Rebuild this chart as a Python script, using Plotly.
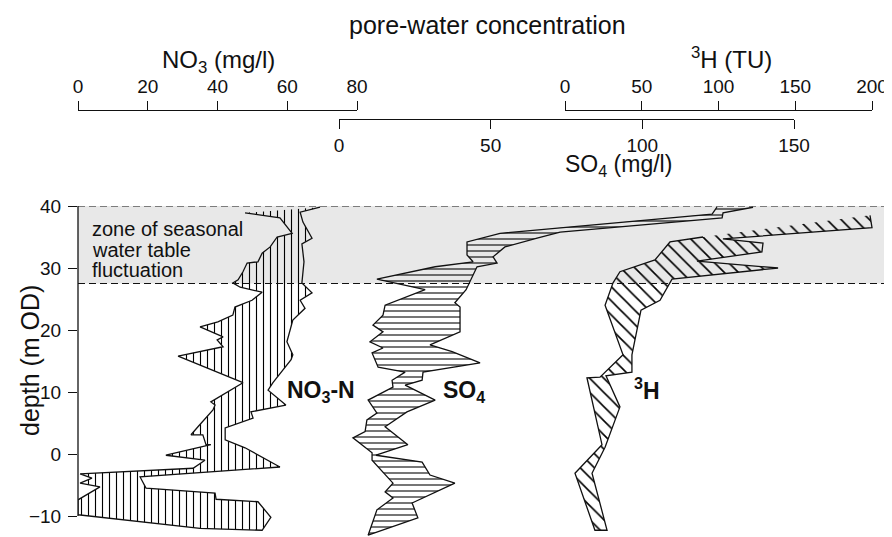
import plotly.graph_objects as go

# ---------------- data ----------------
# NO3 (mg/l): envelope of the pore-water profile, right (max) and left (min) edges
no3_max_depth = [39.8, 39.0, 37.4, 34.8, 33.9, 31.0, 27.6, 26.0, 24.8, 23.5, 21.6, 18.1, 16.0, 15.2,
                 11.5, 10.3, 7.9, 6.8, 5.8, 4.2, 2.3, 1.0, -2.1, -3.7, -5.5, -6.3, -7.3, -7.7, -10.2, -12.3]
no3_max = [69.4, 63.7, 64.5, 67.1, 64.2, 64.8, 64.2, 67.1, 63.7, 65.1, 61.6, 59.9, 61.6, 61.1,
           55.9, 54.5, 59.6, 49.6, 50.2, 42.2, 42.2, 47.9, 57.9, 17.8, 19.5, 39.3, 39.6, 51.6, 55.3, 52.8]
no3_min_depth = [38.9, 38.1, 35.6, 35.0, 33.4, 32.4, 31.0, 30.8, 29.4, 28.1, 27.6, 26.9, 26.1, 24.8,
                 23.7, 22.4, 21.3, 20.5, 18.9, 18.4, 17.3, 15.8, 11.5, 8.4, 7.9, 7.1, 4.4, 3.1, 3.1,
                 1.5, 1.5, -0.2, -1.0, -2.3, -3.2, -3.9, -4.7, -5.3, -7.4, -9.8, -12.0]
no3_min = [47.9, 57.9, 61.4, 57.1, 55.1, 52.8, 51.6, 48.5, 47.3, 45.9, 44.4, 46.5, 52.8, 49.9,
           45.0, 44.4, 40.1, 35.0, 41.6, 39.9, 41.6, 28.7, 47.3, 38.1, 39.3, 38.7, 34.4, 32.4, 35.8,
           36.7, 38.1, 25.2, 36.4, 33.0, 0.6, 4.0, 0.6, 6.3, 0.0, 0.0, 35.0]

# SO4 (mg/l)
so4_max_depth = [39.8, 38.9, 38.1, 35.8, 34.8, 33.4, 31.8, 30.8, 30.2, 27.7, 26.5, 24.4, 23.7, 19.7,
                 17.6, 16.5, 14.7, 13.2, 11.9, 11.1, 8.7, 6.8, 4.4, 1.5, -0.2, -1.3, -3.4, -4.7,
                 -7.9, -10.3, -13.1]
so4_max = [136.5, 126.6, 126.3, 72.9, 65.3, 54.7, 50.8, 52.1, 45.5, 43.2, 41.9, 38.2, 39.9, 39.9,
           30.0, 37.3, 46.5, 27.7, 27.4, 21.8, 31.7, 22.4, 15.2, 22.7, 12.2, 27.4, 30.0, 38.2,
           24.1, 26.0, 9.6]
so4_min_depth = [39.8, 38.7, 36.5, 35.6, 34.2, 32.1, 31.0, 30.2, 28.2, 26.5, 24.0, 22.4, 20.8, 19.7,
                 18.1, 17.1, 16.3, 14.0, 13.2, 11.9, 10.8, 8.7, 6.6, 5.5, 3.6, 2.6, 0.2, -1.0,
                 -4.7, -6.1, -7.1, -9.0, -13.1]
so4_min = [124.6, 123.0, 72.9, 53.1, 42.2, 42.2, 44.2, 31.7, 12.5, 28.4, 15.2, 14.5, 11.2, 14.5,
           10.2, 14.5, 10.9, 12.9, 21.8, 17.5, 17.8, 9.6, 12.5, 9.2, 8.6, 4.6, 10.9, 10.9,
           17.8, 15.2, 17.8, 12.5, 9.6]

# 3H (TU)
h3_max_depth = [38.5, 36.5, 34.7, 34.0, 32.6, 31.1, 30.0, 28.2, 24.8, 23.2, 16.0, 13.2, 12.6, 7.6,
                1.1, -3.1, -12.3]
h3_max = [198.7, 200.0, 102.9, 129.0, 128.3, 86.0, 138.8, 69.7, 61.9, 49.5, 43.6, 43.6, 26.7, 35.8,
          26.1, 17.6, 27.4]
h3_min_depth = [35.0, 34.2, 31.3, 29.4, 27.6, 24.0, 16.0, 12.4, 12.3, 1.5, -3.1, -12.3]
h3_min = [89.9, 68.4, 58.6, 35.8, 31.3, 26.1, 37.8, 22.8, 14.3, 24.1, 6.5, 19.5]

# water-table fluctuation zone (m OD)
zone_bottom = 27.5
zone_top = 40.0

# tick values
depth_ticks = [-10, 0, 10, 20, 30, 40]
no3_ticks = [0, 20, 40, 60, 80]
so4_ticks = [0, 50, 100, 150]
h3_ticks = [0, 50, 100, 150, 200]

# ---------------- layout geometry (pixels of the 892x537 window) ----------------
WIN_W, WIN_H = 892, 537
OFF = 8              # page (body) margin around the plot div
W, H = WIN_W - OFF, WIN_H - OFF
AX_L = 78            # depth axis position
Y40 = 206            # pixel row of 40 m
PX_PER_M = 6.2
NO3_PX = (78, 357)   # 0 and 80
SO4_PX = (339, 794)  # 0 and 150
H3_PX = (565, 872)   # 0 and 200
TOP_LINE = 111       # NO3 / 3H axis line row
SO4_LINE = 119       # SO4 axis line row

FONT = "Liberation Sans, Arial, Helvetica, sans-serif"


def data_range(vmax, px):
    scale = (px[1] - px[0]) / vmax
    return [(AX_L - px[0]) / scale, (WIN_W - px[0]) / scale]


def px_x(p):
    return (p - OFF) / W


def px_y(p):
    return 1 - (p - OFF) / H


def band(dmax, vmax, dmin, vmin):
    xs = list(vmax) + list(reversed(vmin))
    ys = list(dmax) + list(reversed(dmin))
    return xs, ys


fig = go.Figure()

bands = [
    (no3_max_depth, no3_max, no3_min_depth, no3_min, "x", "|", 7, 0.16),
    (so4_max_depth, so4_max, so4_min_depth, so4_min, "x2", "-", 6, 0.18),
    (h3_max_depth, h3_max, h3_min_depth, h3_min, "x3", "\\", 10, 0.16),
]
for dmx, vmx, dmn, vmn, xa, shp, sz, sol in bands:
    xs, ys = band(dmx, vmx, dmn, vmn)
    fig.add_trace(go.Scatter(
        x=xs, y=ys, xaxis=xa, yaxis="y", mode="lines", fill="toself",
        fillcolor="rgba(0,0,0,0)",
        fillpattern=dict(shape=shp, size=sz, solidity=sol, fgcolor="#000",
                         bgcolor="rgba(0,0,0,0)"),
        line=dict(color="#111", width=1.3), showlegend=False, hoverinfo="skip"))

y_bottom = 40 - (WIN_H - Y40) / PX_PER_M

tickfont = dict(family=FONT, size=19, color="#111")
common_top = dict(showgrid=False, zeroline=False, showline=True, linecolor="#111",
                  linewidth=1.2, ticks="outside", ticklen=9, tickcolor="#111",
                  tickwidth=1.2, tickfont=tickfont, fixedrange=True, automargin=False)

fig.update_layout(
    template="none",
    width=W, height=H, margin=dict(l=0, r=0, t=0, b=0, pad=0, autoexpand=False),
    paper_bgcolor="white", plot_bgcolor="rgba(0,0,0,0)",
    font=dict(family=FONT, color="#111"),
    showlegend=False,
    xaxis=dict(domain=[px_x(AX_L), 1], range=data_range(80, NO3_PX), visible=False,
               anchor="y", fixedrange=True, automargin=False),
    xaxis2=dict(domain=[px_x(AX_L), 1], range=data_range(150, SO4_PX), visible=False,
                anchor="y", overlaying="x", fixedrange=True, automargin=False),
    xaxis3=dict(domain=[px_x(AX_L), 1], range=data_range(200, H3_PX), visible=False,
                anchor="y", overlaying="x", fixedrange=True, automargin=False),
    yaxis=dict(domain=[0, px_y(Y40)], range=[y_bottom, 40], tickvals=depth_ticks,
               ticks="outside", ticklen=9, tickcolor="#111", tickwidth=1.2,
               ticklabelstandoff=3,
               showgrid=False, zeroline=False, showline=False, tickfont=tickfont,
               fixedrange=True, automargin=False),
    xaxis4=dict(domain=[px_x(NO3_PX[0]), px_x(NO3_PX[1])], range=[0, 80], tickvals=no3_ticks,
                anchor="y2", side="top", **common_top),
    xaxis5=dict(domain=[px_x(SO4_PX[0]), px_x(SO4_PX[1])], range=[0, 150], tickvals=so4_ticks,
                anchor="y3", side="bottom", **common_top),
    xaxis6=dict(domain=[px_x(H3_PX[0]), px_x(H3_PX[1])], range=[0, 200], tickvals=h3_ticks,
                anchor="y2", side="top", **common_top),
    yaxis2=dict(domain=[px_y(TOP_LINE) - 0.01, px_y(TOP_LINE)], visible=False,
                fixedrange=True, automargin=False),
    yaxis3=dict(domain=[px_y(SO4_LINE), px_y(SO4_LINE) + 0.01], visible=False,
                fixedrange=True, automargin=False),
)

# invisible traces to activate the decorative top axes
for xa, ya, rng in (("x4", "y2", [0, 80]), ("x5", "y3", [0, 150]), ("x6", "y2", [0, 200])):
    fig.add_trace(go.Scatter(x=rng, y=[0, 0], xaxis=xa, yaxis=ya, mode="markers",
                             marker=dict(opacity=0), showlegend=False, hoverinfo="skip"))

# zone of seasonal water-table fluctuation
fig.add_shape(type="rect", xref="paper", yref="y", x0=px_x(AX_L), x1=1,
              y0=zone_bottom, y1=zone_top, fillcolor="#e8e8e8", line=dict(width=0),
              layer="below")
for yv in (zone_top, zone_bottom):
    fig.add_shape(type="line", xref="paper", yref="y", x0=px_x(AX_L), x1=1, y0=yv, y1=yv,
                  line=dict(color="#111", width=1, dash="7px,4px"))
# depth axis line
fig.add_shape(type="line", xref="paper", yref="y", x0=px_x(AX_L), x1=px_x(AX_L),
              y0=-10, y1=40, line=dict(color="#111", width=1.3))


def note(text, x, y, size, **kw):
    fig.add_annotation(text=text, xref="paper", yref="paper", x=px_x(x), y=px_y(y),
                       showarrow=False, font=dict(family=FONT, size=size, color="#111"),
                       xanchor=kw.pop("xanchor", "center"), yanchor="middle", **kw)


note("pore-water concentration", 488, 25, 25)
note("NO<sub>3</sub> (mg/l)", 218, 62, 24)
note("<sup>3</sup>H (TU)", 731, 58, 24)
note("SO<sub>4</sub> (mg/l)", 618, 166, 23)
note("depth (m OD)", 30, 361, 25, textangle=-90)
note("zone of seasonal", 90, 229, 20, xanchor="left")
note("water table", 90, 250, 20, xanchor="left")
note("fluctuation", 90, 270, 20, xanchor="left")
note("<b>NO<sub>3</sub>-N</b>", 321, 391, 23)
note("<b>SO<sub>4</sub></b>", 464, 391, 23)
note("<b><sup>3</sup>H</b>", 647, 389, 23)

fig.write_html("out.html")
